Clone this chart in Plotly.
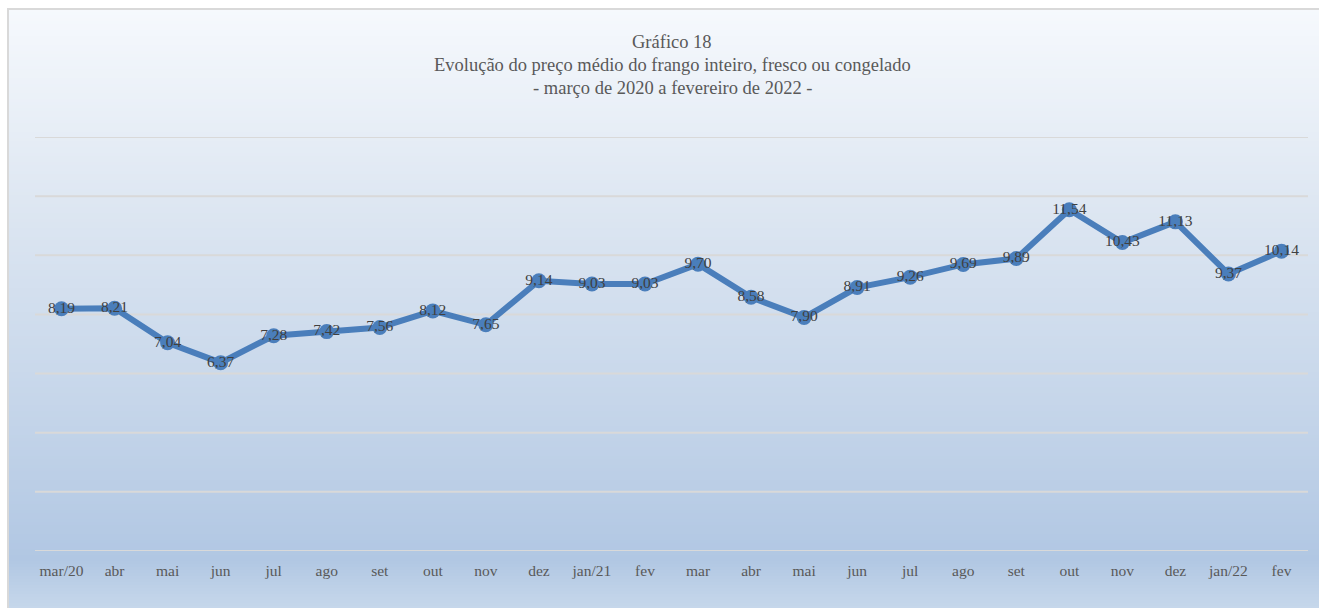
import plotly.graph_objects as go

categories = ["mar/20", "abr", "mai", "jun", "jul", "ago", "set", "out", "nov", "dez",
              "jan/21", "fev", "mar", "abr ", "mai ", "jun ", "jul ", "ago ", "set ", "out ",
              "nov ", "dez ", "jan/22", "fev "]
values = [8.19, 8.21, 7.04, 6.37, 7.28, 7.42, 7.56, 8.12, 7.65, 9.14,
          9.03, 9.03, 9.70, 8.58, 7.90, 8.91, 9.26, 9.69, 9.89, 11.54,
          10.43, 11.13, 9.37, 10.14]
grid_values = [0, 2, 4, 6, 8, 10, 12, 14]
title_lines = ["Gráfico 18",
               "Evolução do preço médio do frango inteiro, fresco ou congelado",
               "- março de 2020 a fevereiro de 2022 -"]

W, H = 1319, 608
ML, MR, MT, MB = 35, 11, 137, 57
PW, PH = W - ML - MR, H - MT - MB


def px_to_paper_x(px):
    return (px - ML) / PW


def px_to_paper_y(py):
    return (H - MB - py) / PH


labels = [f"{v:.2f}".replace(".", ",") for v in values]
LINE = "#4a7ebb"
FONT = "Liberation Serif"

fig = go.Figure()
fig.add_trace(go.Scatter(
    x=list(range(len(categories))), y=values, mode="lines+markers+text",
    line=dict(color=LINE, width=6),
    marker=dict(color=LINE, size=15),
    text=labels, textposition="middle center",
    textfont=dict(family=FONT, size=15.5, color="#404040"),
    cliponaxis=False, hoverinfo="skip", showlegend=False,
))

# gradient background via bands
stops = [(9, (246, 249, 253)), (200, (222, 231, 242)), (400, (198, 214, 234)),
         (560, (177, 199, 227)), (608, (198, 215, 235))]


def color_at(py):
    for (y0, c0), (y1, c1) in zip(stops, stops[1:]):
        if y0 <= py <= y1:
            t = (py - y0) / (y1 - y0)
            return tuple(round(a + (b - a) * t) for a, b in zip(c0, c1))
    return stops[-1][1]


shapes = []
step = 3
py = 9
while py < H:
    c = color_at(py + step / 2)
    shapes.append(dict(type="rect", xref="paper", yref="paper", layer="below",
                       x0=px_to_paper_x(8), x1=px_to_paper_x(W + 2),
                       y0=px_to_paper_y(min(py + step + 0.5, H + 2)), y1=px_to_paper_y(py),
                       fillcolor=f"rgb{c}", line=dict(width=0)))
    py += step
# frame border
shapes.append(dict(type="line", xref="paper", yref="paper", layer="below",
                   x0=px_to_paper_x(8), x1=px_to_paper_x(8),
                   y0=px_to_paper_y(H + 2), y1=px_to_paper_y(8),
                   line=dict(color="#d9d9d9", width=2)))
shapes.append(dict(type="line", xref="paper", yref="paper", layer="below",
                   x0=px_to_paper_x(7), x1=px_to_paper_x(W + 2),
                   y0=px_to_paper_y(9), y1=px_to_paper_y(9),
                   line=dict(color="#d9d9d9", width=2)))
# horizontal gridlines
for gv in grid_values:
    shapes.append(dict(type="line", xref="paper", yref="y", layer="below",
                       x0=0, x1=1, y0=gv, y1=gv,
                       line=dict(color="#d9d9d9", width=2)))

annotations = []
for t, yy in zip(title_lines, [42, 65, 88]):
    annotations.append(dict(text=t, xref="paper", yref="paper",
                            x=px_to_paper_x(672), y=px_to_paper_y(yy),
                            xanchor="center", yanchor="middle", showarrow=False,
                            font=dict(family=FONT, size=18.5, color="#595959")))

fig.update_layout(
    width=W, height=H,
    margin=dict(l=ML, r=MR, t=MT, b=MB),
    paper_bgcolor="white", plot_bgcolor="rgba(0,0,0,0)",
    shapes=shapes, annotations=annotations,
    xaxis=dict(tickmode="array", tickvals=list(range(len(categories))),
               ticktext=[c.strip() for c in categories],
               range=[-0.5, len(categories) - 0.5], showgrid=False, zeroline=False,
               showline=False, ticks="outside", ticklen=5, tickcolor="rgba(0,0,0,0)",
               tickfont=dict(family=FONT, size=15.5, color="#595959"), fixedrange=True),
    yaxis=dict(range=[0, 14], showgrid=False,
               showticklabels=False, zeroline=False, showline=False, fixedrange=True),
)
fig.write_html("out.html", config={"displayModeBar": False},
               post_script="document.body.style.margin='0px';document.body.style.overflow='hidden';")
